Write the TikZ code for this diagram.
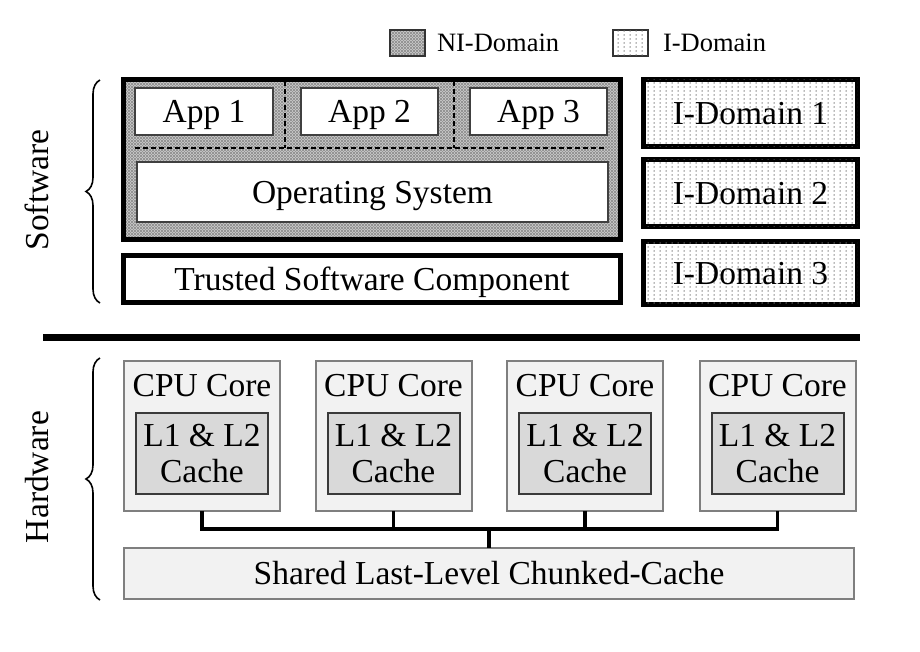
\documentclass[tikz,border=0pt]{standalone}
\usepackage{fontspec}
\setmainfont{Liberation Serif}
\usetikzlibrary{patterns,decorations.pathreplacing}
\pgfdeclarepatternformonly{nipat}{\pgfqpoint{-1pt}{-1pt}}{\pgfqpoint{4pt}{4pt}}{\pgfqpoint{3pt}{3pt}}{%
  \pgfsetlinewidth{0.75pt}%
  \pgfpathmoveto{\pgfqpoint{0pt}{0pt}}\pgfpathlineto{\pgfqpoint{3.1pt}{3.1pt}}%
  \pgfpathmoveto{\pgfqpoint{0pt}{3pt}}\pgfpathlineto{\pgfqpoint{3.1pt}{-0.1pt}}%
  \pgfusepath{stroke}}
\pgfdeclarepatternformonly{ipat}{\pgfqpoint{-1pt}{-1pt}}{\pgfqpoint{1pt}{1pt}}{\pgfqpoint{6pt}{4pt}}{%
  \pgfpathcircle{\pgfqpoint{0pt}{0pt}}{0.75pt}\pgfusepath{fill}}
\definecolor{corefill}{HTML}{F2F2F2}
\definecolor{cachefill}{HTML}{D9D9D9}
\definecolor{coreline}{HTML}{7F7F7F}
\definecolor{cacheline}{HTML}{3A3A3A}
\newcommand{\bigfont}{\fontsize{33.5}{36}\selectfont}
\tikzset{
  txt/.style={font=\bigfont, inner sep=0pt, outer sep=0pt},
  legtxt/.style={font=\fontsize{26.5}{30}\selectfont, inner sep=0pt, outer sep=0pt, anchor=west},
  box/.style={rectangle, inner sep=0pt, outer sep=0pt},
  ctext/.style={font=\bigfont, text height=22.5pt, text depth=0pt},
  nipatfill/.style={preaction={fill=gray!12}, pattern=nipat, pattern color=black!42},
  nibox/.style={box, draw=black, line width=5pt, nipatfill},
  ibox/.style={box, draw=black, line width=5pt, fill=white, postaction={pattern=ipat, pattern color=black!55}, ctext},
  appbox/.style={box, draw=black!75, line width=2pt, fill=white, ctext},
  tscbox/.style={box, draw=black, line width=5pt, fill=white, ctext},
  corebox/.style={box, draw=coreline, line width=2pt, fill=corefill},
  cachebox/.style={box, draw=cacheline, line width=2pt, fill=cachefill, align=center, font=\bigfont},
  sharedbox/.style={box, draw=coreline, line width=2pt, fill=corefill, ctext},
  dash line/.style={line width=2pt, dash pattern=on 5pt off 3pt, black},
  conn/.style={line width=3.5pt, black},
  bracestyle/.style={line width=1.6pt, decorate, decoration={brace, amplitude=14pt, aspect=0.5}},
  legbox/.style={box, draw=black!80, line width=2pt, minimum width=35pt, minimum height=26pt},
}
\begin{document}
\begin{tikzpicture}[x=1pt, y=-1pt]
\useasboundingbox (0,0) rectangle (920,651);
% legend
\node[legbox, nipatfill] (lni) at (407.5,43) {};
\node[legtxt] (lnit) at (437,43) {NI-Domain};
\node[legbox, fill=white, postaction={pattern=ipat, pattern color=black!55}] (li) at (630,43) {};
\node[legtxt] (lit) at (663,43) {I-Domain};
% NI domain
\node[nibox, minimum width=497pt, minimum height=160pt] (ni) at (372,159.5) {};
\draw[dash line] (285,81) coordinate (dv1t) -- (285,148) coordinate (dv1b);
\draw[dash line] (454,81) coordinate (dv2t) -- (454,148) coordinate (dv2b);
\draw[dash line] (135,148) coordinate (dhl) -- (607,148) coordinate (dhr);
\node[appbox, minimum width=138pt, minimum height=47pt] (app1) at (204,111.5) {App 1};
\node[appbox, minimum width=137pt, minimum height=47pt] (app2) at (369.5,111.5) {App 2};
\node[appbox, minimum width=137pt, minimum height=47pt] (app3) at (538.5,111.5) {App 3};
\node[appbox, minimum width=471pt, minimum height=60pt] (os) at (372.5,192) {Operating System};
\node[tscbox, minimum width=497pt, minimum height=47pt] (tsc) at (372,279) {Trusted Software Component};
% I domains
\node[ibox, minimum width=214pt, minimum height=67pt] (id1) at (750.5,113) {I-Domain 1};
\node[ibox, minimum width=214pt, minimum height=67pt] (id2) at (750.5,193) {I-Domain 2};
\node[ibox, minimum width=214pt, minimum height=63pt] (id3) at (750.5,273) {I-Domain 3};
% separator
\draw[line width=7pt] (43,337) coordinate (sepl) -- (860,337) coordinate (sepr);
% braces and labels
\draw[bracestyle] (100,303) coordinate (sb1) -- (100,80) coordinate (sb2);
\node[txt, rotate=90] (sw) at (37,190) {Software};
\draw[bracestyle] (100,600) coordinate (hb1) -- (100,358) coordinate (hb2);
\node[txt, rotate=90] (hw) at (37,477) {Hardware};
% cores
\foreach \i/\cx in {1/202,2/393.5,3/585,4/777.5}{
  \node[corebox, minimum width=156pt, minimum height=150pt] (core\i) at (\cx,436) {};
  \node[txt] (coret\i) at (\cx,386) {CPU Core};
  \node[cachebox, minimum width=132pt, minimum height=81pt] (cache\i) at (\cx,453.5) {L1 \& L2\\Cache};
}
\node[sharedbox, minimum width=730pt, minimum height=51pt] (shared) at (489,573.5) {Shared Last-Level Chunked-Cache};
\coordinate (bus) at (489,529);
\draw[conn] (core1.south) -- (core1.south |- bus) -- (core4.south |- bus) -- (core4.south);
\draw[conn] (core2.south) -- (core2.south |- bus);
\draw[conn] (core3.south) -- (core3.south |- bus);
\draw[conn] (bus) -- (shared.north);
\end{tikzpicture}
\end{document}
